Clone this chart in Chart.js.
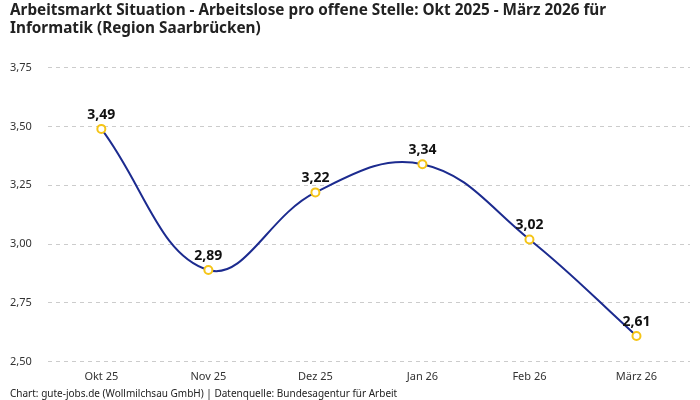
<!DOCTYPE html>
<html>
<head>
<meta charset="utf-8">
<script src="https://cdn.jsdelivr.net/npm/chart.js@4/dist/chart.umd.min.js"></script>
<style>
  html, body { margin: 0; padding: 0; background: #fff; }
  #wrap { width: 700px; height: 400px; }
</style>
</head>
<body>
<div id="wrap"><canvas id="chart"></canvas></div>
<script>
const monate = ['Okt 25', 'Nov 25', 'Dez 25', 'Jan 26', 'Feb 26', 'März 26'];
const arbeitsloseProStelle = [3.49, 2.89, 3.22, 3.34, 3.02, 2.61];
const titelZeilen = [
    'Arbeitsmarkt Situation - Arbeitslose pro offene Stelle: Okt 2025 - März 2026 für',
    'Informatik (Region Saarbrücken)'
];
const quelle = 'Chart: gute-jobs.de (Wollmilchsau GmbH) | Datenquelle: Bundesagentur für Arbeit';

const fontFamily = '"Noto Sans", "Open Sans", sans-serif';

function formatDe(v) {
    return v.toFixed(2).replace('.', ',');
}

// Werte über den Punkten schreiben
const wertLabels = {
    id: 'wertLabels',
    afterDatasetsDraw(chart) {
        const ctx = chart.ctx;
        const meta = chart.getDatasetMeta(0);
        ctx.save();
        ctx.font = 'bold 14px ' + fontFamily;
        ctx.fillStyle = '#111';
        ctx.textAlign = 'center';
        ctx.textBaseline = 'bottom';
        meta.data.forEach((pt, i) => {
            ctx.fillText(formatDe(arbeitsloseProStelle[i]), pt.x, pt.y - 7);
        });
        ctx.restore();
    }
};

new Chart(document.getElementById('chart').getContext('2d'), {
    type: 'line',
    data: {
        labels: monate,
        datasets: [{
            data: arbeitsloseProStelle,
            borderColor: '#1c2b8f',
            borderWidth: 2,
            tension: 0.4,
            fill: false,
            pointRadius: 4,
            pointBorderWidth: 2,
            pointBorderColor: '#f5c518',
            pointBackgroundColor: '#ffffff'
        }]
    },
    options: {
        responsive: true,
        maintainAspectRatio: false,
        animation: false,
        layout: { padding: { left: 10, right: 10, top: 1, bottom: 0 } },
        plugins: {
            legend: { display: false },
            tooltip: { enabled: false },
            title: {
                display: true,
                text: titelZeilen,
                align: 'start',
                color: '#222',
                font: { family: fontFamily, size: 15.3, weight: 'bold', lineHeight: 1.2 },
                padding: { top: 0, bottom: 30 }
            },
            subtitle: {
                display: true,
                text: quelle,
                position: 'bottom',
                align: 'start',
                color: '#222',
                font: { family: fontFamily, size: 10 },
                padding: { top: 5, bottom: 0 }
            }
        },
        scales: {
            x: {
                offset: true,
                grid: { display: false },
                border: { display: false },
                ticks: { color: '#333', font: { family: fontFamily, size: 11 }, padding: 0 }
            },
            y: {
                min: 2.5,
                max: 3.75,
                grid: { color: '#cccccc', drawTicks: false },
                border: { display: false, dash: [4, 4] },
                ticks: {
                    stepSize: 0.25,
                    color: '#333',
                    padding: 8,
                    crossAlign: 'far',
                    font: { family: fontFamily, size: 11 },
                    callback: v => formatDe(v)
                }
            }
        }
    },
    plugins: [wertLabels]
});
</script>
</body>
</html>
